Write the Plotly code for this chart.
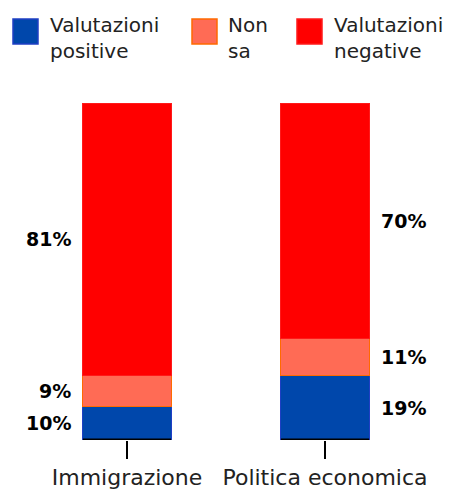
import plotly.graph_objects as go

categories = ["Immigrazione", "Politica economica"]
series_names = ["Valutazioni<br>positive", "Non<br>sa", "Valutazioni<br>negative"]
positive = [10, 19]
non_sa = [9, 11]
negative = [81, 70]

colors = {
    'positive': '#0047ab',
    'non_sa': '#ff6b55',
    'negative': '#ff0000',
}
borders = {
    'positive': '#1f3fc4',
    'non_sa': '#ff6a00',
    'negative': '#ff1a1a',
}

# page body has an 8px margin, so the figure is drawn 8px smaller
W, H = 446, 484
M = dict(l=20, r=30, t=95, b=52)
BAR_W = 0.445
FONT = "DejaVu Sans"


def px_x(p):
    # pixel -> paper x
    return (p - M['l']) / (W - M['l'] - M['r'])


def px_y(p):
    # pixel (from top) -> paper y
    return (H - M['b'] - p) / (H - M['t'] - M['b'])


fig = go.Figure()
series = [('positive', positive), ('non_sa', non_sa), ('negative', negative)]
for key, vals in series:
    fig.add_trace(go.Bar(
        x=categories,
        y=vals,
        width=BAR_W,
        marker=dict(color=colors[key], line=dict(color=borders[key], width=1)),
        showlegend=False,
        hoverinfo='skip',
    ))

# value labels, left of first bar, right of second bar
for i, cat in enumerate(categories):
    base = 0
    for key, vals in series:
        v = vals[i]
        mid = base + v / 2
        base += v
        fig.add_annotation(
            x=i, y=mid, xref='x', yref='y',
            text=f"<b>{v}%</b>", showarrow=False,
            xanchor='right' if i == 0 else 'left',
            xshift=-54 if i == 0 else 54,
            font=dict(family=FONT, size=19, color='black'),
        )
    # black baseline under each bar
    fig.add_shape(type='line', xref='x', yref='y',
                  x0=i - BAR_W / 2, x1=i + BAR_W / 2, y0=0, y1=0,
                  line=dict(color='black', width=3))

# manual legend (pixel positions)
legend_sq = [5, 184, 289]
legend_tx = [40, 218, 324]
for name, key, sx, tx in zip(series_names, ['positive', 'non_sa', 'negative'], legend_sq, legend_tx):
    fig.add_shape(type='rect', xref='paper', yref='paper',
                  x0=px_x(sx), x1=px_x(sx + 25), y0=px_y(36), y1=px_y(11),
                  fillcolor=colors[key], line=dict(color=borders[key], width=1.5),
                  layer='above')
    fig.add_annotation(x=px_x(tx), y=px_y(3), xref='paper', yref='paper',
                       text=name, showarrow=False, xanchor='left', yanchor='top',
                       align='left',
                       font=dict(family=FONT, size=20, color='#222'))

fig.update_layout(
    width=W, height=H,
    margin=M,
    paper_bgcolor='white', plot_bgcolor='white',
    barmode='stack',
    font=dict(family=FONT, size=22, color='#222'),
)
fig.update_xaxes(
    range=[-0.5, 1.5], showline=False, showgrid=False, automargin=False,
    ticks='outside', ticklen=18, tickwidth=1.5, tickcolor='black',
    tickfont=dict(family=FONT, size=22, color='#222'),
)
fig.update_yaxes(range=[0, 100], visible=False)

fig.write_html("out.html")
